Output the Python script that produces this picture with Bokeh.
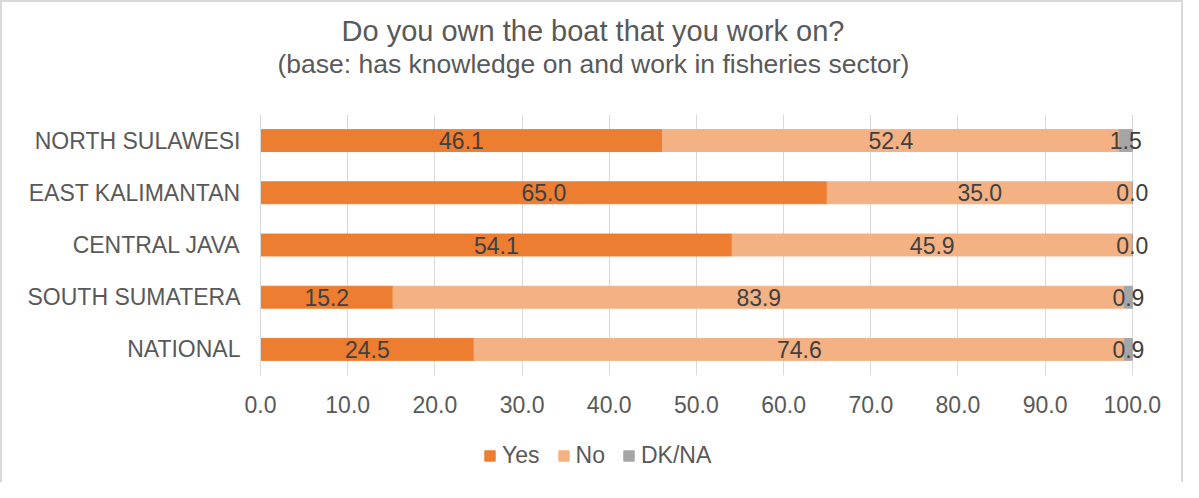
from bokeh.plotting import figure
from bokeh.layouts import column
from bokeh.models import (FactorRange, Range1d, FixedTicker, PrintfTickFormatter,
                          Title, Legend, LegendItem, LabelSet, ColumnDataSource)
from bokeh.embed import file_html
from bokeh.resources import INLINE
from bokeh.core.properties import value

# ---- data ----
regions = ["NORTH SULAWESI", "EAST KALIMANTAN", "CENTRAL JAVA", "SOUTH SUMATERA", "NATIONAL"]
series_names = ["Yes", "No", "DK/NA"]
yes = [46.1, 65.0, 54.1, 15.2, 24.5]
no = [52.4, 35.0, 45.9, 83.9, 74.6]
dkna = [1.5, 0.0, 0.0, 0.9, 0.9]
x_ticks = [0, 10, 20, 30, 40, 50, 60, 70, 80, 90, 100]
title_text = "Do you own the boat that you work on?"
subtitle_text = "(base: has knowledge on and work in fisheries sector)"

colors = ["#ED7D31", "#F4B183", "#A5A5A5"]
FONT = "Liberation Sans"
TXT = "#595959"

p = figure(width=1183, height=422, title=title_text,
           y_range=FactorRange(factors=regions[::-1]),
           x_range=Range1d(0, 103),
           output_backend="svg", toolbar_location=None,
           min_border_left=260, min_border_right=25,
           min_border_top=114, min_border_bottom=47)
p.outline_line_color = None
p.border_fill_color = None

# titles: spacer (closest to plot), subtitle, main title (outermost)
p.title.align = "left"
p.title.offset = 81
p.title.standoff = 0
p.title.text_font = FONT
p.title.text_font_size = "29px"
p.title.text_font_style = "normal"
p.title.text_color = TXT
spacer = Title(text=" ", text_font_size="1px", standoff=33)
p.add_layout(spacer, "above")
sub_title = Title(text=subtitle_text, align="left", offset=17, standoff=0, text_font=FONT,
                  text_font_size="26.5px", text_font_style="normal", text_color=TXT,
                  text_line_height=0.9)
p.add_layout(sub_title, "above")

src = ColumnDataSource(dict(region=regions, yes=yes, no=no, dkna=dkna))
rs = p.hbar_stack(["yes", "no", "dkna"], y="region", height=0.42,
                  color=colors, source=src)

# data labels centred in each segment
lx, ly, lt = [], [], []
for i, reg in enumerate(regions):
    start = 0.0
    for vals in (yes, no, dkna):
        v = vals[i]
        lx.append(start + v / 2.0)
        ly.append(reg)
        lt.append(f"{v:.1f}")
        start += v
lab_src = ColumnDataSource(dict(x=lx, y=ly, text=lt))
p.add_layout(LabelSet(x="x", y="y", text="text", source=lab_src,
                      text_align="center", text_baseline="middle",
                      text_font=value(FONT), text_font_size="23px",
                      text_color="#404040"))

# axes
p.xaxis.ticker = FixedTicker(ticks=x_ticks)
p.xaxis.formatter = PrintfTickFormatter(format="%.1f")
p.xaxis.axis_line_color = None
p.xaxis.major_tick_line_color = None
p.xaxis.minor_tick_line_color = None
p.xaxis.major_tick_out = 0
p.xaxis.major_label_standoff = 20
p.xaxis.major_label_text_font = FONT
p.xaxis.major_label_text_font_size = "23px"
p.xaxis.major_label_text_color = TXT

p.yaxis.axis_line_color = "#D9D9D9"
p.yaxis.major_tick_line_color = None
p.yaxis.minor_tick_line_color = None
p.yaxis.major_tick_out = 0
p.yaxis.major_label_standoff = 20
p.yaxis.major_label_text_font = FONT
p.yaxis.major_label_text_font_size = "23px"
p.yaxis.major_label_text_color = TXT

p.xgrid.grid_line_color = "#D9D9D9"
p.ygrid.grid_line_color = None

# legend strip underneath (its swatch renderers are hidden)
pl = figure(width=1183, height=60, x_range=Range1d(200, 201),
            y_range=FactorRange(factors=regions[::-1]),
            output_backend="svg", toolbar_location=None,
            x_axis_location=None, y_axis_location=None, min_border=0)
pl.outline_line_color = None
pl.border_fill_color = None
pl.background_fill_color = None
pl.grid.visible = False
swatches = pl.hbar_stack(["yes", "no", "dkna"], y="region", height=0.42,
                         color=colors, source=src)
for r in swatches:
    r.visible = False
legend = Legend(items=[LegendItem(label=n, renderers=[r]) for n, r in zip(series_names, swatches)],
                orientation="horizontal", location=(223, 13),
                glyph_width=13, glyph_height=13, label_standoff=6, spacing=17,
                padding=0, margin=0, border_line_color=None, background_fill_alpha=0,
                label_text_font=FONT, label_text_font_size="23px", label_text_color=TXT)
pl.add_layout(legend)

layout = column(p, pl, spacing=0)
layout.styles = {"box-shadow": "inset 2px 2px 0 0 #d9d9d9, inset -2px 0 0 0 #d9d9d9"}

open("out.html", "w").write(file_html(layout, INLINE))
